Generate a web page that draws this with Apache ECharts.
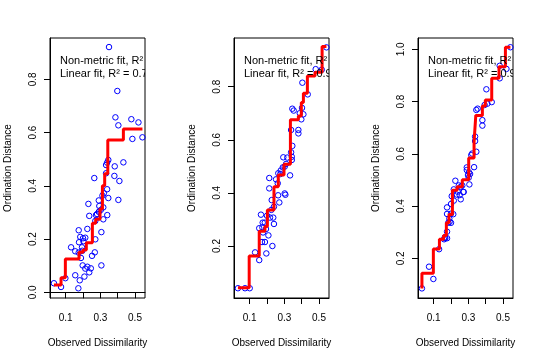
<!DOCTYPE html>
<html><head><meta charset="utf-8">
<script src="https://cdn.jsdelivr.net/npm/echarts@6/dist/echarts.min.js"></script>
<style>html,body{margin:0;padding:0;background:#fff}#c{width:552px;height:362px}</style>
</head><body><div id="c"></div><script>
// ---- data ----
const xTicks = [0.1, 0.2, 0.3, 0.4, 0.5];
const xLabelTicks = [0.1, 0.3, 0.5];
const xRange = [0.0093, 0.5578];

const yTicks1 = [0.0, 0.2, 0.4, 0.6, 0.8];
const yTicks2 = [0.2, 0.4, 0.6, 0.8];
const yTicks3 = [0.2, 0.4, 0.6, 0.8, 1.0];
const yRange1 = [-0.0214, 0.955];
const yRange2 = [0.0042, 0.9833];
const yRange3 = [0.0482, 1.0434];

const points1 = [
 [0.350,0.921],[0.398,0.756],[0.387,0.657],[0.404,0.627],[0.479,0.650],[0.520,0.638],[0.485,0.576],[0.543,0.582],
 [0.346,0.497],[0.339,0.487],[0.333,0.478],[0.383,0.473],[0.433,0.488],[0.333,0.447],[0.381,0.437],[0.410,0.418],
 [0.265,0.429],[0.339,0.387],[0.320,0.372],[0.312,0.363],[0.346,0.354],[0.404,0.347],[0.291,0.345],[0.231,0.332],
 [0.294,0.324],[0.317,0.319],[0.302,0.309],[0.291,0.302],[0.340,0.290],[0.236,0.287],[0.281,0.294],[0.275,0.290],
 [0.317,0.274],[0.271,0.268],[0.175,0.233],[0.225,0.238],[0.306,0.226],[0.271,0.199],[0.184,0.208],[0.213,0.205],
 [0.177,0.188],[0.200,0.203],[0.202,0.192],[0.131,0.169],[0.155,0.154],[0.175,0.149],[0.194,0.169],[0.196,0.156],
 [0.268,0.150],[0.252,0.137],[0.188,0.129],[0.198,0.101],[0.225,0.096],[0.213,0.089],[0.245,0.090],[0.236,0.075],
 [0.306,0.101],[0.155,0.064],[0.181,0.045],[0.208,0.059],[0.098,0.053],[0.032,0.034],[0.073,0.020],[0.173,0.015]
];
const stepX1 = [0.032, 0.073, 0.098, 0.177, 0.200, 0.219, 0.254, 0.273, 0.298, 0.312, 0.325, 0.343, 0.433, 0.543];
const stepY1 = [0.027, 0.055, 0.125, 0.150, 0.159, 0.186, 0.259, 0.274, 0.313, 0.400, 0.445, 0.572, 0.613, 0.613];

const points2 = [
 [0.543,0.948],[0.481,0.866],[0.516,0.864],[0.404,0.815],[0.435,0.771],[0.402,0.720],[0.346,0.717],[0.354,0.710],[0.389,0.700],[0.410,0.696],[0.398,0.677],
 [0.339,0.637],[0.381,0.637],[0.381,0.624],[0.346,0.577],[0.339,0.553],[0.343,0.536],[0.294,0.534],[0.317,0.533],[0.343,0.524],[0.310,0.509],
 [0.302,0.499],[0.291,0.496],[0.279,0.484],[0.265,0.474],[0.277,0.471],[0.333,0.466],[0.252,0.451],[0.213,0.456],[0.262,0.436],[0.213,0.417],
 [0.302,0.398],[0.306,0.393],[0.264,0.391],[0.271,0.364],[0.227,0.373],[0.240,0.348],[0.225,0.336],[0.200,0.314],[0.217,0.307],[0.165,0.318],
 [0.236,0.307],[0.240,0.283],[0.175,0.288],[0.187,0.288],[0.173,0.270],[0.155,0.267],[0.194,0.264],[0.177,0.251],[0.208,0.240],[0.171,0.215],
 [0.188,0.215],[0.231,0.200],[0.196,0.172],[0.131,0.176],[0.155,0.147],[0.032,0.041],[0.073,0.041],[0.100,0.041]
];
const stepX2 = [0.032, 0.097, 0.155, 0.188, 0.202, 0.240, 0.265, 0.298, 0.335, 0.381, 0.398, 0.410, 0.433, 0.477, 0.518, 0.543];
const stepY2 = [0.043, 0.162, 0.256, 0.273, 0.336, 0.423, 0.467, 0.508, 0.675, 0.690, 0.740, 0.775, 0.840, 0.854, 0.951, 0.951];

const points3 = [
 [0.543,1.008],[0.481,0.937],[0.520,0.925],[0.481,0.889],[0.404,0.847],[0.435,0.798],[0.410,0.792],[0.394,0.787],[0.354,0.773],[0.346,0.768],
 [0.381,0.729],[0.381,0.708],[0.339,0.666],[0.339,0.649],[0.346,0.608],[0.317,0.595],[0.322,0.601],[0.333,0.549],[0.291,0.548],[0.291,0.538],
 [0.304,0.529],[0.298,0.519],[0.310,0.523],[0.302,0.509],[0.306,0.483],[0.265,0.479],[0.256,0.474],[0.225,0.497],[0.245,0.479],[0.271,0.454],
 [0.216,0.464],[0.233,0.444],[0.238,0.455],[0.204,0.438],[0.256,0.426],[0.216,0.421],[0.200,0.408],[0.200,0.371],[0.213,0.369],[0.177,0.370],
 [0.177,0.395],[0.190,0.352],[0.184,0.336],[0.200,0.336],[0.177,0.302],[0.177,0.277],[0.160,0.273],[0.167,0.277],[0.131,0.235],[0.073,0.168],
 [0.098,0.121],[0.032,0.085],[0.250,0.442],[0.273,0.454],[0.164,0.280],[0.192,0.340]
];
const stepX3 = [0.032, 0.032, 0.098, 0.133, 0.157, 0.173, 0.188, 0.208, 0.235, 0.265, 0.302, 0.333, 0.343, 0.381, 0.398, 0.435, 0.477, 0.514, 0.543];
const stepY3 = [0.085, 0.143, 0.236, 0.273, 0.287, 0.336, 0.368, 0.461, 0.474, 0.501, 0.584, 0.646, 0.747, 0.783, 0.806, 0.889, 0.933, 1.008, 1.008];

const fitLabels = [
 ['Non-metric fit, R\u00B2 = 0.928', 'Linear fit, R\u00B2 = 0.748'],
 ['Non-metric fit, R\u00B2 = 0.988', 'Linear fit, R\u00B2 = 0.963'],
 ['Non-metric fit, R\u00B2 = 0.995', 'Linear fit, R\u00B2 = 0.985']
];
const xTitle = 'Observed Dissimilarity';
const yTitle = 'Ordination Distance';

// ---- chart ----
const FONT = '"Liberation Sans", Arial, sans-serif';
const panels = [
 {pts: points1, sx: stepX1, sy: stepY1, yt: yTicks1, yr: yRange1, left: 50},
 {pts: points2, sx: stepX2, sy: stepY2, yt: yTicks2, yr: yRange2, left: 234},
 {pts: points3, sx: stepX3, sy: stepY3, yt: yTicks3, yr: yRange3, left: 418}
];
const grids = [], xAxes = [], yAxes = [], series = [];
panels.forEach((p, i) => {
  grids.push({left: p.left, top: 38, width: 95, height: 260, show: true,
    borderColor: '#000', borderWidth: 1, backgroundColor: 'transparent'});
  xAxes.push({type: 'value', gridIndex: i, min: xRange[0], max: xRange[1],
    axisLine: {show: true, lineStyle: {color: '#000', width: 1}},
    axisTick: {show: true, customValues: xTicks, length: 6, lineStyle: {color: '#000'}},
    axisLabel: {customValues: xLabelTicks, margin: 15, color: '#000', fontSize: 10, fontFamily: FONT,
      formatter: v => v.toFixed(1)},
    splitLine: {show: false},
    name: xTitle, nameLocation: 'middle', nameGap: 40,
    nameTextStyle: {color: '#000', fontSize: 10, fontFamily: FONT}});
  yAxes.push({type: 'value', gridIndex: i, min: p.yr[0], max: p.yr[1],
    axisLine: {show: true, lineStyle: {color: '#000', width: 1}},
    axisTick: {show: true, customValues: p.yt, length: 6, lineStyle: {color: '#000'}},
    axisLabel: {customValues: p.yt, rotate: 90, margin: 12, color: '#000', fontSize: 10, fontFamily: FONT,
      formatter: v => v.toFixed(1)},
    splitLine: {show: false},
    name: yTitle, nameLocation: 'middle', nameGap: 37,
    nameTextStyle: {color: '#000', fontSize: 10, fontFamily: FONT}});
  series.push({type: 'scatter', xAxisIndex: i, yAxisIndex: i, data: p.pts,
    symbol: 'circle', symbolSize: 5.5,
    itemStyle: {color: 'rgba(0,0,0,0)', borderColor: '#0000FF', borderWidth: 1, opacity: 1}, z: 2});
  series.push({type: 'line', xAxisIndex: i, yAxisIndex: i, step: 'end', showSymbol: false, symbol: 'none',
    data: p.sx.map((x, k) => [x, p.sy[k]]),
    lineStyle: {color: '#FF0000', width: 3}, z: 3, clip: true});
  const labs = fitLabels[i];
  series.push({type: 'custom', xAxisIndex: i, yAxisIndex: i, data: [[0, 0]], clip: true, z: 5,
    renderItem: (params) => {
      const cs = params.coordSys;
      return {type: 'group', children: labs.map((t, k) => ({
        type: 'text', x: cs.x + 10, y: cs.y + 23 + k * 13,
        style: {text: t, fill: '#000', font: '11px ' + FONT, verticalAlign: 'middle', align: 'left'}
      }))};
    }});
});
const chart = echarts.init(document.getElementById('c'), null, {renderer: 'canvas'});
chart.setOption({animation: false, backgroundColor: '#fff', grid: grids, xAxis: xAxes, yAxis: yAxes, series: series});
</script></body></html>
